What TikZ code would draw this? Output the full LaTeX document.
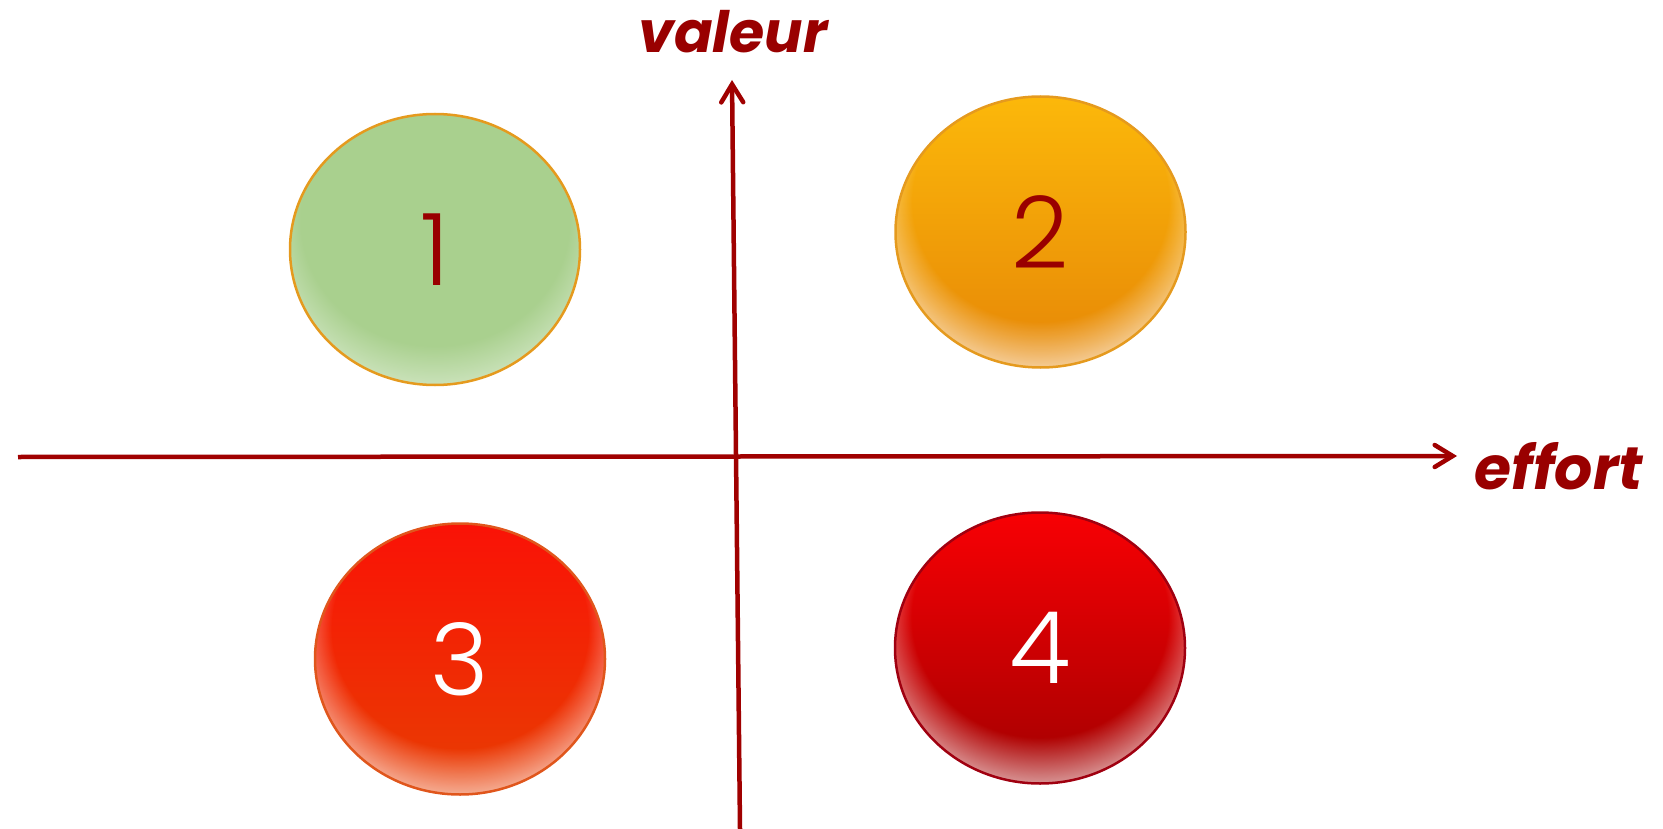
\documentclass[tikz,border=0pt]{standalone}
\usepackage{fontspec}
\setmainfont{Poppins}
\IfFontExistsTF{Poppins Light}{\newfontfamily\numfont{Poppins Light}}{\newfontfamily\numfont{Poppins}}
\usetikzlibrary{arrows.meta,fadings,shapes.geometric}
\definecolor{axisred}{HTML}{A00000}
\definecolor{txtred}{HTML}{990000}
\definecolor{greenfill}{HTML}{A9D08E}
\definecolor{orangeline}{HTML}{E59A1E}
\definecolor{redline}{HTML}{E0561C}
\definecolor{darkline}{HTML}{A00010}
\pgfdeclareradialshading{rimshade}{\pgfpoint{0bp}{10bp}}{color(0bp)=(black); color(22bp)=(black); color(30bp)=(white!65!black); color(50bp)=(white!65!black)}
\pgfdeclarefading{rim}{\pgfuseshading{rimshade}}
\pgfdeclareradialshading{rimshadelight}{\pgfpoint{0bp}{10bp}}{color(0bp)=(black); color(23bp)=(black); color(30bp)=(white!45!black); color(50bp)=(white!45!black)}
\pgfdeclarefading{rimlight}{\pgfuseshading{rimshadelight}}
\tikzset{
  axis/.style={draw=axisred, line width=4.5pt, -{Straight Barb[length=18pt,width=22pt,line cap=round]}},
  bubble/.style={ellipse, minimum width=290pt, minimum height=271pt, inner sep=0pt, line width=2.5pt,
     font=\numfont\fontsize{100}{100}\selectfont,
     path picture={\fill[white, path fading=#1, fit fading=true] (path picture bounding box.south west) rectangle (path picture bounding box.north east);}},
  bubble/.default=rim,
  axlabel/.style={text=txtred, font=\bfseries\itshape, anchor=base, inner sep=0pt}
}
\begin{document}
\begin{tikzpicture}[x=1pt,y=-1pt]
\useasboundingbox (0,0) rectangle (1663,829);
% axes
\coordinate (xs) at (18,457);
\coordinate (xe) at (1457,456);
\coordinate (ys) at (740,829);
\coordinate (ye) at (732,80);
\draw[axis] (xs) -- (xe);
\draw[axis] (ys) -- (ye);
% labels
\node[axlabel, font=\fontsize{57}{60}\selectfont\bfseries\itshape] (val) at (733,53) {valeur};
\node[axlabel, font=\fontsize{60}{64}\selectfont\bfseries\itshape] (eff) at (1559,489) {effort};
% bubbles
\node[bubble=rimlight, draw=orangeline, fill=greenfill, text=txtred] (q1) at (435,249.5) {1};
\node[bubble, draw=orangeline, top color={rgb,255:red,252;green,184;blue,10}, middle color={rgb,255:red,255;green,166;blue,0}, bottom color={rgb,255:red,230;green,134;blue,6}, text=txtred] (q2) at (1040.5,232) {2};
\node[bubble, draw=redline, top color={rgb,255:red,250;green,18;blue,6}, middle color={rgb,255:red,252;green,44;blue,2}, bottom color={rgb,255:red,232;green,62;blue,2}, text=white] (q3) at (460,659) {3};
\node[bubble, draw=darkline, top color={rgb,255:red,248;green,0;blue,4}, middle color={rgb,255:red,214;green,0;blue,0}, bottom color={rgb,255:red,162;green,0;blue,0}, text=white] (q4) at (1040,648) {4};
\end{tikzpicture}
\end{document}
